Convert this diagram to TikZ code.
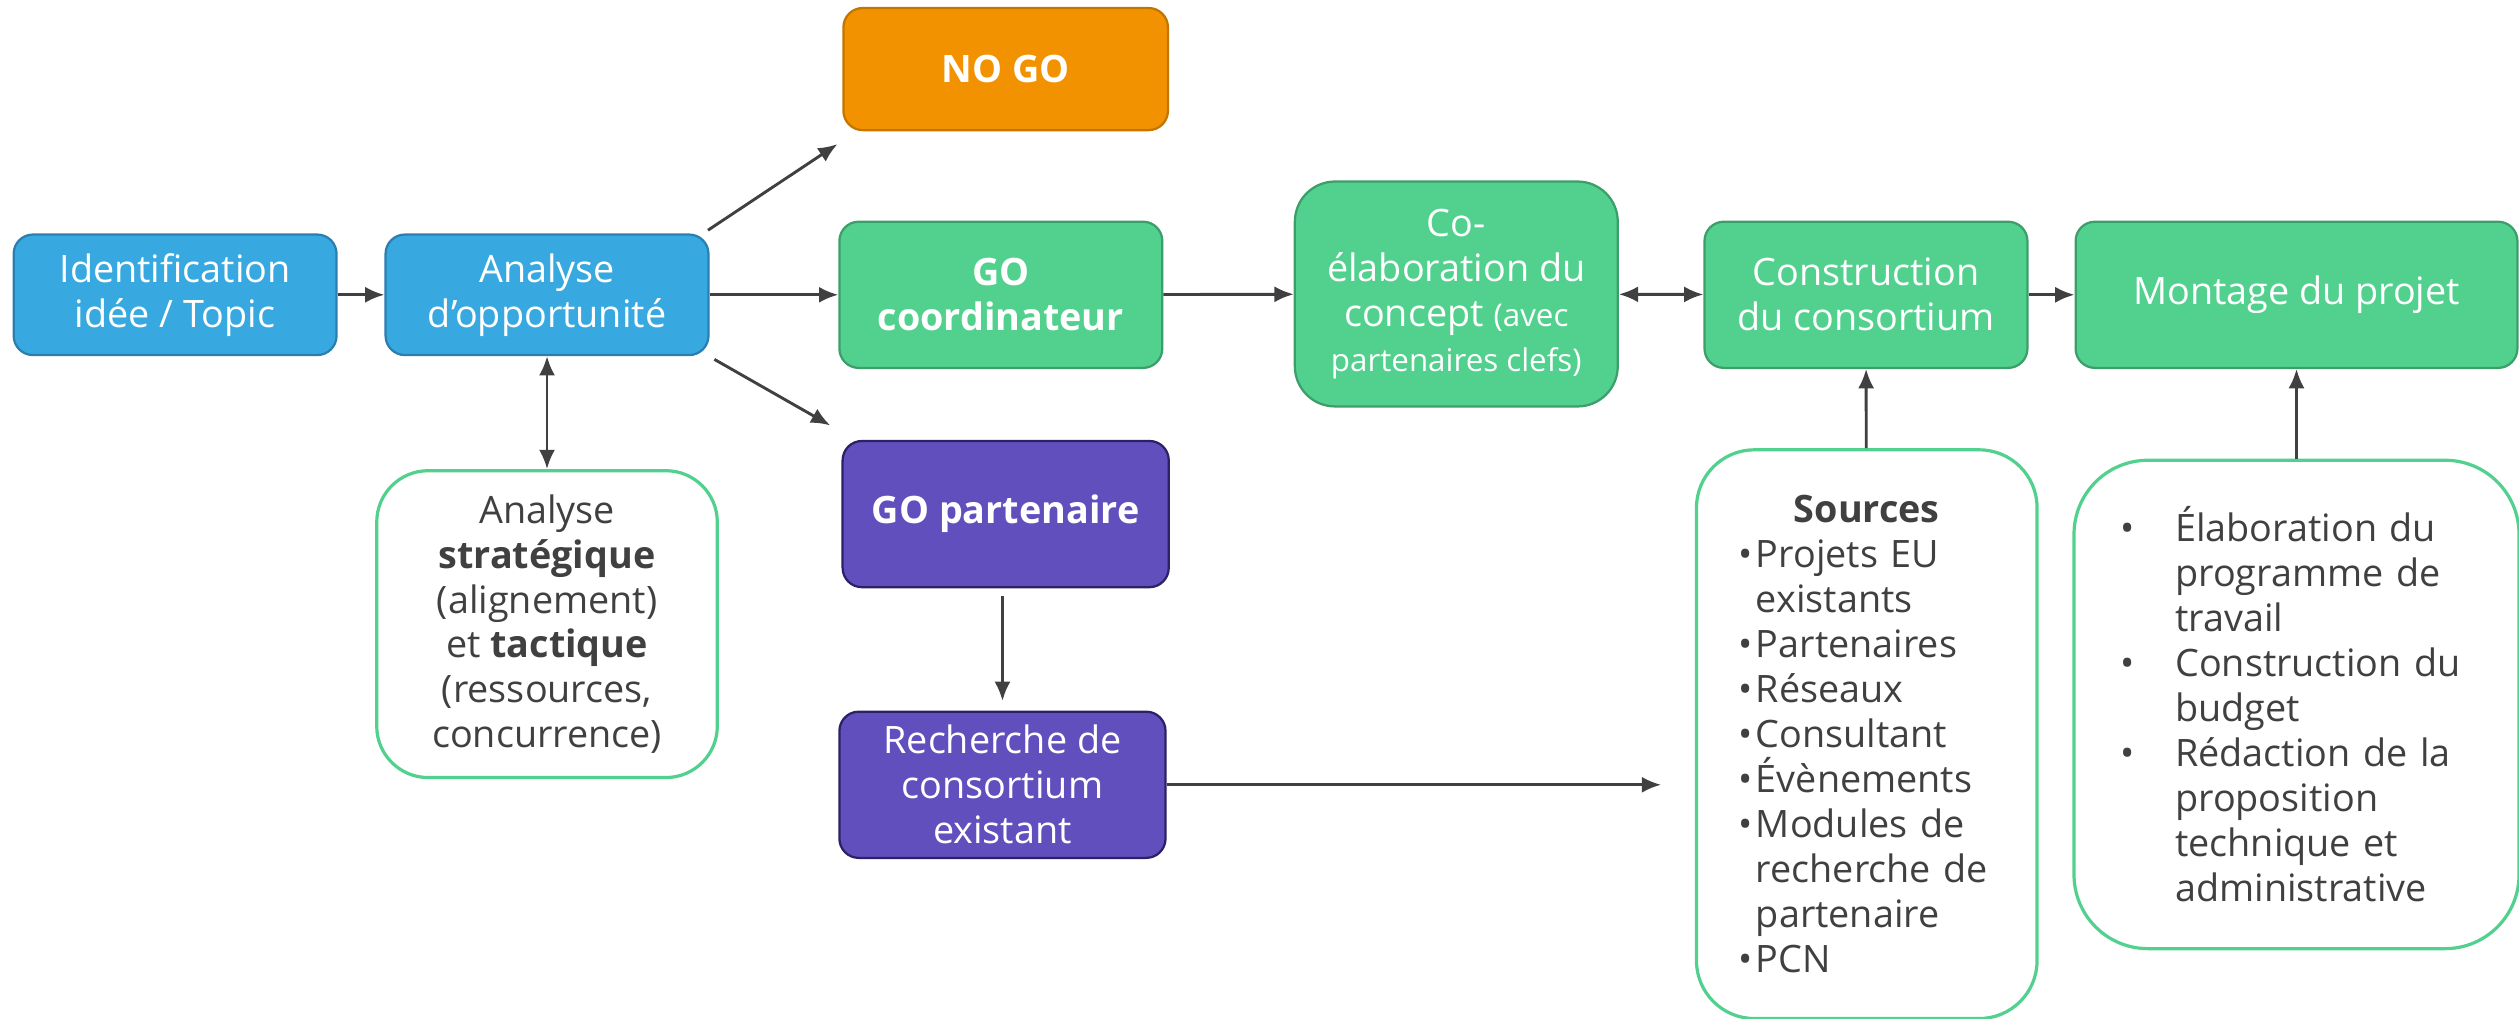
\documentclass[tikz,border=0pt]{standalone}
\usepackage{fontspec}
\setmainfont{Open Sans}
\usetikzlibrary{arrows.meta}

\definecolor{ideablue}{HTML}{38A9E0}
\definecolor{ideaedge}{HTML}{2B7FB0}
\definecolor{nogofill}{HTML}{F29200}
\definecolor{nogoedge}{HTML}{C47500}
\definecolor{gofill}{HTML}{52D18E}
\definecolor{goedge}{HTML}{3C9E6A}
\definecolor{partfill}{HTML}{614FBE}
\definecolor{partedge}{HTML}{2A2166}
\definecolor{linegray}{HTML}{404040}

\newcommand\srcitem{\makebox[11pt][l]{\textbullet}}
\newcommand\srcind{\hspace*{11pt}}
\newcommand\elabitem{\makebox[34pt][l]{\textbullet}}
\newcommand\elabind{\hspace*{34pt}}

\begin{document}
\begin{tikzpicture}[x=1pt, y=-1pt, >={Latex[length=12pt,width=10pt]}, line width=1.8pt, linegray,
  every box/.style={rounded corners=12pt, line width=1.4pt, align=center, text=white,
    inner sep=0pt, font=\fontsize{23.5}{28}\selectfont},
  blue box/.style={every box, fill=ideablue, draw=ideaedge, minimum width=201pt, minimum height=75pt},
  green box/.style={every box, fill=gofill, draw=goedge, minimum width=201pt, minimum height=91pt},
  purple box/.style={every box, fill=partfill, draw=partedge, minimum width=203pt, minimum height=91pt},
  note/.style={rounded corners=32pt, draw=gofill, line width=2pt, fill=white, text=linegray,
    align=center, inner sep=0pt, font=\fontsize{23.5}{28}\selectfont}]

\useasboundingbox (0,0) rectangle (1568,634);

\node [blue box] (idea) at (109,183.5) {Identification\\idée / Topic};
\node [blue box] (opp) at (340.5,183.5) {Analyse\\d’opportunité};

\node [every box, fill=nogofill, draw=nogoedge, minimum width=202pt, minimum height=76pt]
  (nogo) at (626,43) {\bfseries NO GO};
\node [green box] (gocoord) at (623,183.5) {\bfseries GO\\\bfseries coordinateur};
\node [purple box] (gopart) at (626,320) {\bfseries GO partenaire};
\node [purple box] (rech) at (624,488.5) {Recherche de\\consortium\\existant};

\node [green box, rounded corners=25pt, minimum height=140pt] (coel) at (906.5,183)
  {Co-\\élaboration du\\concept {\fontsize{19.5}{25}\selectfont(avec}\\{\fontsize{19.5}{25}\selectfont partenaires clefs)}};
\node [green box] (cons) at (1161.5,183.5) {Construction\\du consortium};
\node [green box, minimum width=275pt] (mont) at (1429.5,183.5) {Montage du projet};

\node [note, minimum width=212pt, minimum height=191pt] (strat) at (340.5,388.5)
  {Analyse\\\textbf{stratégique}\\(alignement)\\et \textbf{tactique}\\(ressources,\\concurrence)};

\node [note, rounded corners=36pt, text width=160pt, align=left, inner xsep=26pt, minimum height=354pt]
  (src) at (1162,457) {\makebox[\linewidth]{\textbf{Sources}}\\
  \srcitem Projets EU\\\srcind existants\\\srcitem Partenaires\\\srcitem Réseaux\\
  \srcitem Consultant\\\srcitem Évènements\\\srcitem Modules de\\\srcind recherche de\\
  \srcind partenaire\\\srcitem PCN};

\node [note, rounded corners=46pt, text width=219pt, align=left, inner xsep=29pt, minimum height=304pt]
  (elab) at (1429.5,438.5) {\elabitem Élaboration du\\\elabind programme de\\\elabind travail\\
  \elabitem Construction du\\\elabind budget\\\elabitem Rédaction de la\\\elabind proposition\\
  \elabind technique et\\\elabind administrative};

\foreach \a/\b in {idea/opp, opp/gocoord, gocoord/coel, cons/mont}
  \draw [->] (\a) -- (\b);

\draw [<->] (coel) -- (cons);
\draw [<->] (opp) -- (strat);

\draw [->] ([shift={(-1,-2)}]opp.north east) -- ([shift={(-3,8)}]nogo.south west);
\draw [->] ([shift={(3,2)}]opp.south east) -- ([shift={(-7,-9)}]gopart.north west);

\draw [->, shorten <=5pt, shorten >=6pt] (rech |- gopart.south) -- (rech.north);
\draw [->, shorten >=21pt] (rech.east) -- (rech.east -| src.west);

\draw [->] (src) -- (cons);
\draw [->] (elab) -- (mont);

\end{tikzpicture}
\end{document}
